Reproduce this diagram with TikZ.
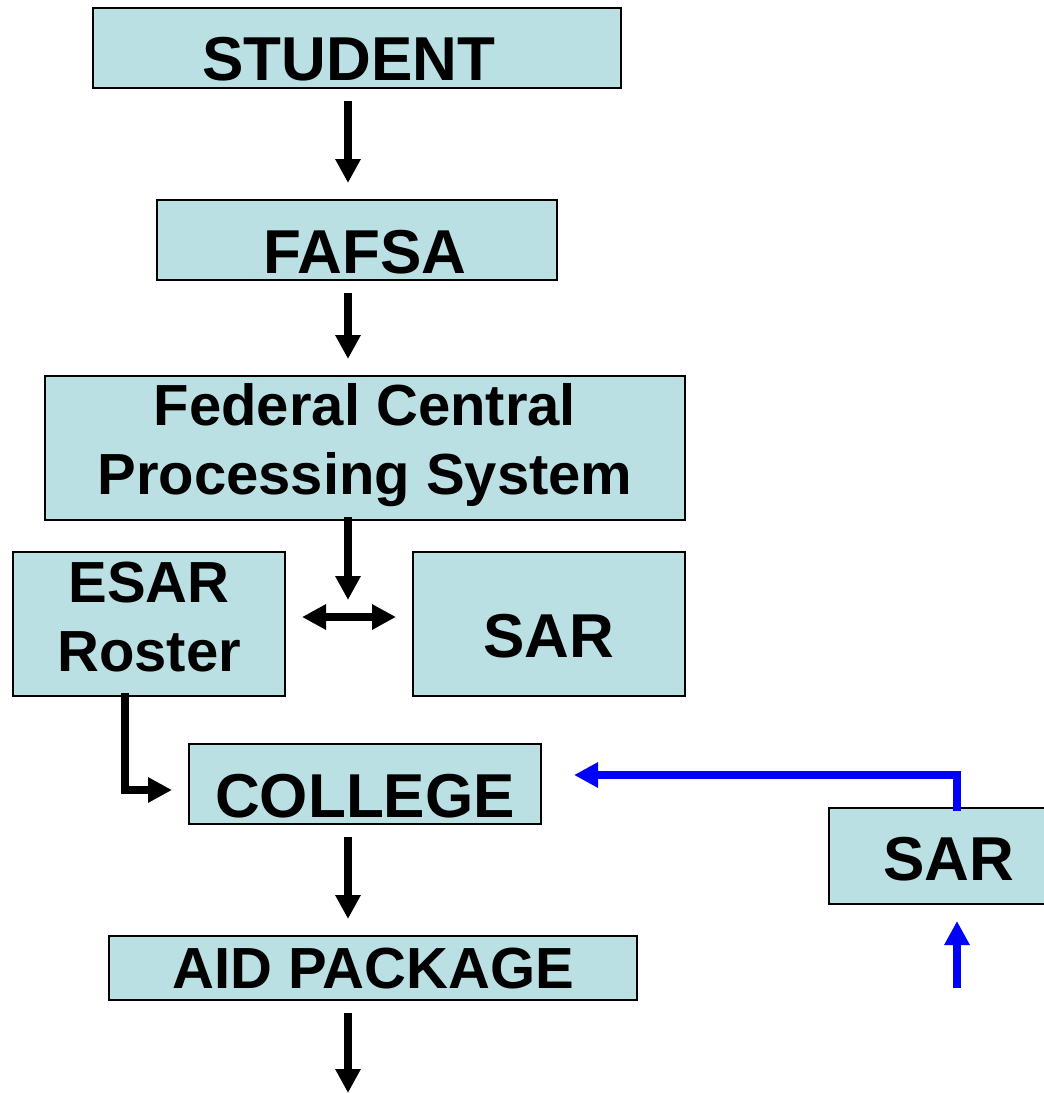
\documentclass[tikz,border=0pt]{standalone}
\usepackage{fontspec}
\setmainfont{Liberation Sans}
\usetikzlibrary{arrows.meta}
\definecolor{boxfill}{RGB}{187,224,227}
\definecolor{flowblue}{RGB}{0,0,255}
\begin{document}
\begin{tikzpicture}[x=1pt,y=-1pt,
  box/.style={draw=black, line width=2pt, fill=boxfill, inner sep=0pt, font=\bfseries\fontsize{62}{62}\selectfont, text depth=0pt},
  twoline/.style={box, align=center, text depth=, font=\bfseries\fontsize{58}{69}\selectfont},
  arr/.style={line width=7.5pt, draw=black, -{Triangle[width=24pt,length=24pt]}},
  dbl/.style={line width=7.5pt, draw=black, {Triangle[width=24pt,length=24pt]}-{Triangle[width=24pt,length=24pt]}},
  barr/.style={line width=7.5pt, draw=flowblue, line join=miter, -{Triangle[width=24pt,length=24pt]}}
]
\useasboundingbox (0,0) rectangle (1044,1093);

\node[box, minimum width=528pt, minimum height=80pt, text height=64pt] (student) at (357,48) {STUDENT\hspace*{16pt}};
\node[box, minimum width=400pt, minimum height=80pt, text height=66pt] (fafsa) at (357,240) {\hspace*{16pt}FAFSA};
\node[twoline, minimum width=640pt, minimum height=144pt] (fcps) at (365,448) {Federal Central\\Processing System\rule[-18pt]{0pt}{0pt}};
\node[twoline, minimum width=272pt, minimum height=144pt] (esar) at (149,624) {ESAR\\Roster\rule[-14pt]{0pt}{0pt}};
\node[box, minimum width=272pt, minimum height=144pt, text height=66pt] (sar) at (549,624) {SAR};
\node[box, minimum width=352pt, minimum height=80pt, text height=66pt] (college) at (365,784) {COLLEGE};
\node[box, minimum width=239pt, minimum height=96pt, text height=48pt] (sar2) at (948.5,856) {SAR};
\node[box, minimum width=528pt, minimum height=64pt, text height=40pt, font=\bfseries\fontsize{58}{58}\selectfont] (aid) at (373,968) {AID PACKAGE};

\coordinate (cx) at (348,0);
\coordinate (mid) at (348,617);
\coordinate (lx) at (125,790);
\coordinate (bc) at (957,775);
\coordinate (bs) at (957,988);
\coordinate (endpt) at (348,1093);

\draw[arr, shorten <=12pt, shorten >=16pt] (student.south -| cx) -- (fafsa.north -| cx);
\draw[arr, shorten <=12pt, shorten >=16pt] (fafsa.south -| cx) -- (fcps.north -| cx);
\draw[arr, shorten <=-4pt, shorten >=17pt] (fcps.south -| cx) -- (mid);
\draw[dbl, shorten <=16pt, shorten >=16pt] (esar.east |- mid) -- (sar.west |- mid);
\draw[arr, line join=miter, shorten >=16pt] ([yshift=4pt]esar.south -| lx) |- (college.west |- lx);
\draw[arr, shorten <=12pt, shorten >=16pt] (college.south -| cx) -- (aid.north -| cx);
\draw[arr, shorten <=12pt] (aid.south -| cx) -- (endpt);
\draw[barr, shorten >=32pt] ([yshift=-4pt]sar2.north -| bc) -- (bc) -- (college.east |- bc);
\draw[barr, shorten >=16pt] (bs) -- (sar2.south -| bs);
\end{tikzpicture}
\end{document}
